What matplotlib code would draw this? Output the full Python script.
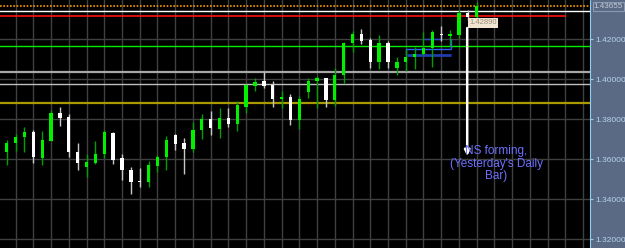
"""Daily candles with support/resistance levels (MT4 style)."""
import matplotlib
matplotlib.use('Agg')
import matplotlib.pyplot as plt
import matplotlib.transforms as mtransforms
import numpy as np

# OHLC, one entry per daily bar
opens = [1.36380, 1.36830, 1.37130, 1.37380, 1.36050, 1.36930, 1.38300, 1.38100, 1.36350, 1.35615,
         1.35815, 1.36250, 1.37315, 1.36050, 1.35465, 1.34915, 1.34880, 1.35665, 1.36115, 1.37215,
         1.36815, 1.36500, 1.37465, 1.38015, 1.37515, 1.38080, 1.37765, 1.38630, 1.39665, 1.39915,
         1.39730, 1.39030, 1.39115, 1.37965, 1.39380, 1.39915, 1.40050, 1.38965, 1.40215, 1.41800,
         1.42265, 1.41965, 1.40880, 1.41800, 1.40580, 1.40865, 1.41100, 1.41250, 1.41580, 1.42265,
         1.42180, 1.42215, 1.43330, 1.43100]
highs = [1.36950, 1.37250, 1.37615, 1.37480, 1.37430, 1.38465, 1.38630, 1.38265, 1.36830, 1.36265,
         1.36915, 1.37480, 1.37380, 1.36250, 1.35630, 1.35550, 1.35930, 1.36215, 1.37165, 1.37280,
         1.37080, 1.37880, 1.38265, 1.38415, 1.38550, 1.38550, 1.38915, 1.39750, 1.40080, 1.40380,
         1.39930, 1.39430, 1.39265, 1.39165, 1.40050, 1.40165, 1.40080, 1.40550, 1.41880, 1.42415,
         1.42515, 1.42080, 1.42215, 1.41930, 1.41130, 1.41515, 1.41630, 1.42350, 1.42465, 1.42665,
         1.42465, 1.43465, 1.43465, 1.43865]
lows = [1.35730, 1.36415, 1.36380, 1.35830, 1.35700, 1.36900, 1.37680, 1.36100, 1.35450, 1.35100,
        1.35765, 1.36080, 1.35765, 1.34980, 1.34265, 1.34600, 1.34630, 1.35380, 1.35465, 1.36465,
        1.35250, 1.36380, 1.37015, 1.37215, 1.37050, 1.37630, 1.37430, 1.38330, 1.39415, 1.39550,
        1.38630, 1.38550, 1.37715, 1.37530, 1.39050, 1.38550, 1.38630, 1.38680, 1.39800, 1.41380,
        1.41765, 1.40550, 1.40515, 1.40550, 1.40215, 1.40430, 1.40515, 1.41215, 1.40630, 1.41930,
        1.41680, 1.42050, 1.42990, 1.42890]
closes = [1.36830, 1.37130, 1.37365, 1.36100, 1.36965, 1.38315, 1.38080, 1.36350, 1.35800, 1.35865,
          1.36265, 1.37365, 1.35965, 1.35480, 1.34865, 1.34850, 1.35715, 1.36115, 1.36965, 1.36765,
          1.36500, 1.37465, 1.38015, 1.37550, 1.38065, 1.37765, 1.38700, 1.39715, 1.39865, 1.39665,
          1.39030, 1.39130, 1.37965, 1.39030, 1.39915, 1.40050, 1.38965, 1.40215, 1.41815, 1.42265,
          1.41915, 1.40880, 1.41800, 1.40865, 1.40880, 1.41100, 1.41265, 1.41580, 1.42350, 1.42200,
          1.42280, 1.43330, 1.43100, 1.43680]

# horizontal levels
bid_level = 1.43655
white_level = 1.43415
red_level = 1.43165
green_level = 1.41650
grey_level = 1.40350
silver_level = 1.39750
olive_level = 1.38830

# small blue box lines near the top
blue_top = 1.42015
blue_mid = 1.41500
blue_low = 1.41240

price_tag = 1.42890
arrow_top = 1.42565
arrow_bottom = 1.36165
y_ticks = [1.32, 1.34, 1.36, 1.38, 1.40, 1.42]

x = np.arange(len(opens))
o = np.array(opens); h = np.array(highs); l = np.array(lows); c = np.array(closes)
up = c >= o

fig = plt.figure(figsize=(6.25, 2.48), dpi=100, facecolor='#5a6a85')
ax = fig.add_axes([0, 0, 590 / 625, 1])
ax.set_facecolor('black')
ax.set_xlim(-0.76, 65.78)
ax.set_ylim(1.31565, 1.43965)

# grid
ax.set_xticks(np.arange(1, 66, 2))
ax.set_yticks(y_ticks)
ax.grid(True, color='#404040', linewidth=1)
ax.set_axisbelow(True)

# levels
ax.axhline(bid_level, color='#ff9a00', linewidth=1.2, linestyle=(0, (1, 1)))
ax.axhline(white_level, color='white', linewidth=1.0)
ax.hlines(red_level, -0.76, 63.1, color='#ff1010', linewidth=1.2)
ax.axhline(green_level, color='#00ee00', linewidth=1.0)
ax.axhline(grey_level, color='#a8a8a8', linewidth=1.6)
ax.axhline(silver_level, color='#c0c0c0', linewidth=1.0)
ax.axhline(olive_level, color='#a89a00', linewidth=1.6)

# blue box
ax.hlines(blue_top, 47.1, 49.0, color='#2848d0', linewidth=1.0)
ax.hlines(blue_mid, 45.0, 50.06, color='#3060ff', linewidth=1.0)
ax.hlines(blue_low, 45.16, 50.06, color='#1f3cb0', linewidth=2.0)
ax.vlines(45.0, blue_low, blue_mid, color='#3060ff', linewidth=1.0)
ax.vlines(50.06, blue_mid, blue_top, color='#3060ff', linewidth=1.0)

# candles
wick_col = np.where(up, '#00a000', '#c8c8c8')
body_col = np.where(up, '#00f000', '#ffffff')
ax.vlines(x, l, h, colors=wick_col, linewidth=1.0, zorder=3)
bottoms = np.minimum(o, c)
heights = np.maximum(np.abs(c - o), 0.0003)
ax.bar(x, heights, bottom=bottoms, width=0.38, color=body_col, linewidth=0, zorder=4)

# arrow + labels
ax.annotate('', xy=(51.93, arrow_bottom), xytext=(51.93, arrow_top),
            arrowprops=dict(arrowstyle='-|>', color='white', lw=1.8,
                            mutation_scale=8, shrinkA=0, shrinkB=0), zorder=5)
ax.text(52.2, price_tag - 0.0007, '1.42890', fontsize=5.5, color='#9a8c78',
        family='Liberation Sans', ha='left', va='center', zorder=6,
        bbox=dict(boxstyle='square,pad=0.15', facecolor='#f2e6d2', edgecolor='none'))
ax.text(55.2, 1.3578, "NS forming,\n(Yesterday's Daily\nBar)", fontsize=8.5,
        color='#6f70ff', family='Liberation Sans', ha='center', va='center',
        multialignment='center', linespacing=1.05, zorder=6)

# right price axis
ax.yaxis.tick_right()
ax.tick_params(axis='y', colors='#8fd0f0', labelcolor='#b8d2ec', labelsize=6,
               length=2, pad=2, direction='out')
ax.tick_params(axis='x', length=0, labelbottom=False)
ax.yaxis.set_major_formatter(matplotlib.ticker.FormatStrFormatter('%.5f'))
for lab in ax.get_yticklabels():
    lab.set_family('Liberation Sans')
for side in ['top', 'bottom', 'left']:
    ax.spines[side].set_visible(False)
ax.spines['right'].set_color('#8fd0f0')
ax.spines['right'].set_linestyle((0, (1, 1)))

trans = mtransforms.blended_transform_factory(ax.transAxes, ax.transData)
ax.text(1.006, bid_level, '1.43655', transform=trans, fontsize=5.8, color='#c4ccd6',
        family='Liberation Sans', ha='left', va='center', clip_on=False,
        bbox=dict(boxstyle='square,pad=0.12', facecolor='#5a6a85', edgecolor='#8a98b0', lw=0.8))

fig.savefig('out.png', dpi=100, facecolor=fig.get_facecolor())
